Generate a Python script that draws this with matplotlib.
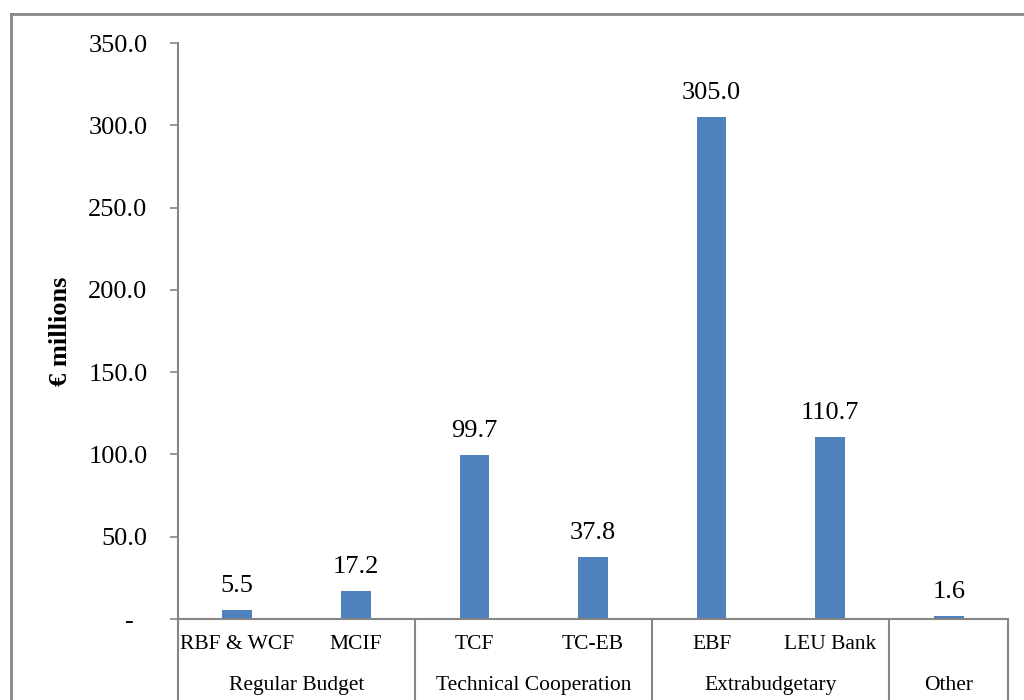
import matplotlib
matplotlib.use("Agg")
import matplotlib.pyplot as plt
import matplotlib.transforms as mtransforms
from matplotlib.lines import Line2D
from matplotlib.ticker import FuncFormatter

# Funds and their values (EUR millions); the last fund has no own sub-label
funds = ["RBF & WCF", "MCIF", "TCF", "TC-EB", "EBF", "LEU Bank", ""]
values = [5.5, 17.2, 99.7, 37.8, 305.0, 110.7, 1.6]
groups = ["Regular Budget", "Technical Cooperation", "Extrabudgetary", "Other"]
group_sizes = [2, 2, 2, 1]
yticks = [0, 50, 100, 150, 200, 250, 300, 350]

BAR = "#4F81BD"
AXIS = "#868686"

plt.rcParams["font.family"] = ["Liberation Serif", "DejaVu Serif"]

fig = plt.figure(figsize=(10.24, 7.0), dpi=100)
ax = fig.add_axes([178 / 1024, 1 - 619 / 700, 830 / 1024, 576 / 700])

x = list(range(len(funds)))
ax.bar(x, values, width=0.25, color=BAR, zorder=2)
ax.set_xlim(-0.5, len(funds) - 0.5)
ax.set_ylim(0, 350)

# value labels above the bars
for xi, v in zip(x, values):
    ax.annotate(f"{v:.1f}", (xi, v), xytext=(0, 13), textcoords="offset points",
                ha="center", va="baseline", fontsize=19)

# y axis
ax.set_yticks(yticks)
ax.yaxis.set_major_formatter(FuncFormatter(lambda v, p: "-  " if v == 0 else f"{v:.1f}"))
ax.tick_params(axis="y", direction="out", length=6, width=1.2, color=AXIS,
               labelsize=19, pad=16)
ax.set_ylabel("€ millions", fontsize=19, fontweight="bold")
ax.yaxis.set_label_coords(-0.128, 0.5)

# x axis: two-level category labels drawn manually
ax.set_xticks([])
for s in ("top", "right"):
    ax.spines[s].set_visible(False)
for s in ("left", "bottom"):
    ax.spines[s].set_color(AXIS)
    ax.spines[s].set_linewidth(1.5)

trans = mtransforms.blended_transform_factory(ax.transData, ax.transAxes)
fig_bottom = -ax.get_position().y0 / ax.get_position().height

for xi, name in zip(x, funds):
    if name:
        ax.text(xi, -0.045, name, transform=trans, ha="center", va="center",
                fontsize=15.5, clip_on=False)

start = -0.5
ax.add_line(Line2D([start, start], [0, fig_bottom], transform=trans,
                   color=AXIS, lw=1.5, clip_on=False))
for g, n in zip(groups, group_sizes):
    end = start + n
    ax.text((start + end) / 2, -0.116, g, transform=trans, ha="center", va="center",
            fontsize=15.5, clip_on=False)
    ax.add_line(Line2D([end, end], [0, fig_bottom], transform=trans,
                       color=AXIS, lw=1.5, clip_on=False))
    start = end

# outer chart frame
fig.add_artist(Line2D([11 / 1024, 11 / 1024], [0, 1 - 14 / 700],
                      transform=fig.transFigure, color=AXIS, lw=2))
fig.add_artist(Line2D([11 / 1024, 1], [1 - 14 / 700, 1 - 14 / 700],
                      transform=fig.transFigure, color=AXIS, lw=2))

fig.savefig("out.png", dpi=100, facecolor="white")
